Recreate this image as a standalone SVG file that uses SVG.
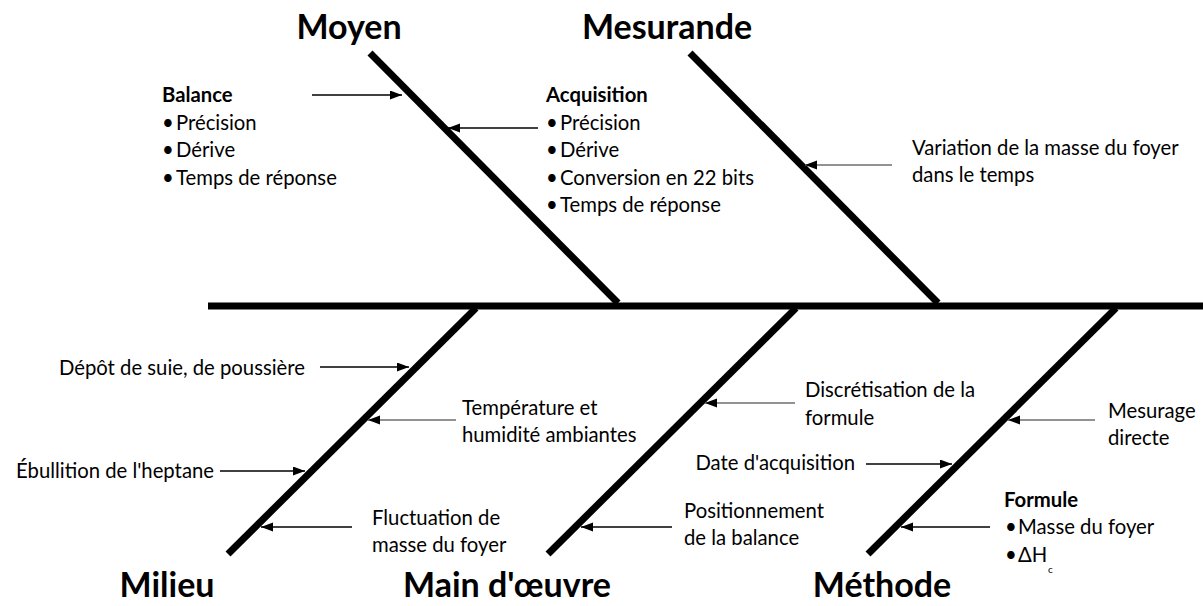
<svg xmlns="http://www.w3.org/2000/svg" width="1203" height="606" viewBox="0 0 1203 606">
<style>
  text { font-family: Lato, "Liberation Sans", sans-serif; fill: #000; }
  .t { font-size: 20.3px; }
  .b { font-weight: bold; }
  .title { font-size: 34px; font-weight: bold; text-anchor: middle; }
  .bone { stroke: #000; stroke-width: 7; fill: none; }
  .arr { stroke: #000; stroke-width: 1.3; fill: none; marker-end: url(#ah); }
  .arr.g { stroke: #6e6e6e; stroke-width: 1.6; }
  .sub { font-size: 10px; }
</style>
<defs>
  <marker id="ah" markerUnits="userSpaceOnUse" markerWidth="14" markerHeight="10" refX="12" refY="4.5" orient="auto">
    <path d="M0,0 L12,4.5 L0,9 z" fill="#000"/>
  </marker>
</defs>

<g id="skeleton">
  <line class="bone" x1="208" y1="306" x2="1203" y2="306"/>
  <line class="bone" x1="370" y1="53" x2="618" y2="303"/>
  <line class="bone" x1="690" y1="53" x2="938" y2="303"/>
  <line class="bone" x1="476" y1="308" x2="228" y2="554"/>
  <line class="bone" x1="796" y1="308" x2="548" y2="554"/>
  <line class="bone" x1="1116" y1="308" x2="868" y2="554"/>
</g>

<g id="connectors">
  <line class="arr" x1="312" y1="95" x2="402" y2="95"/>
  <line class="arr" x1="538" y1="128" x2="448" y2="128"/>
  <line class="arr g" x1="892" y1="165" x2="805" y2="165"/>
  <line class="arr" x1="320" y1="367" x2="409" y2="367"/>
  <line class="arr g" x1="456" y1="420" x2="368" y2="420"/>
  <line class="arr" x1="220" y1="471" x2="305" y2="471"/>
  <line class="arr" x1="352" y1="527" x2="261" y2="527"/>
  <line class="arr g" x1="795" y1="403" x2="705" y2="403"/>
  <line class="arr" x1="672" y1="527" x2="581" y2="527"/>
  <line class="arr" x1="866" y1="464" x2="952" y2="464"/>
  <line class="arr g" x1="1095" y1="420" x2="1008" y2="420"/>
  <line class="arr" x1="990" y1="527" x2="901" y2="527"/>
</g>

<g id="moyen"><text class="title" x="349" y="39">Moyen</text></g>
<g id="mesurande"><text class="title" x="667" y="39">Mesurande</text></g>
<g id="milieu"><text class="title" x="167" y="597">Milieu</text></g>
<g id="main-oeuvre"><text class="title" x="507" y="597">Main d'œuvre</text></g>
<g id="methode"><text class="title" x="882" y="597">Méthode</text></g>

<g id="balance">
  <text class="t b" x="162" y="102">Balance</text>
  <text class="t" x="162" y="130">•<tspan x="176">Précision</tspan></text>
  <text class="t" x="162" y="157">•<tspan x="176">Dérive</tspan></text>
  <text class="t" x="162" y="185">•<tspan x="176">Temps de réponse</tspan></text>
</g>

<g id="acquisition">
  <text class="t b" x="546" y="102">Acquisition</text>
  <text class="t" x="546" y="130">•<tspan x="560">Précision</tspan></text>
  <text class="t" x="546" y="157">•<tspan x="560">Dérive</tspan></text>
  <text class="t" x="546" y="185">•<tspan x="560">Conversion en 22 bits</tspan></text>
  <text class="t" x="546" y="212">•<tspan x="560">Temps de réponse</tspan></text>
</g>

<g id="variation">
  <text class="t" x="912" y="155">Variation de la masse du foyer</text>
  <text class="t" x="912" y="182">dans le temps</text>
</g>

<g id="depot"><text class="t" x="305" y="375" text-anchor="end">Dépôt de suie, de poussière</text></g>
<g id="temperature">
  <text class="t" x="462" y="415">Température et</text>
  <text class="t" x="462" y="442">humidité ambiantes</text>
</g>
<g id="ebullition"><text class="t" x="214" y="478" text-anchor="end">Ébullition de l'heptane</text></g>
<g id="fluctuation">
  <text class="t" x="372" y="525">Fluctuation de</text>
  <text class="t" x="372" y="552">masse du foyer</text>
</g>

<g id="discretisation">
  <text class="t" x="805" y="397">Discrétisation de la</text>
  <text class="t" x="805" y="425">formule</text>
</g>
<g id="date"><text class="t" x="855" y="470" text-anchor="end">Date d'acquisition</text></g>
<g id="positionnement">
  <text class="t" x="684" y="518">Positionnement</text>
  <text class="t" x="684" y="545">de la balance</text>
</g>

<g id="mesurage">
  <text class="t" x="1108" y="418">Mesurage</text>
  <text class="t" x="1108" y="445">directe</text>
</g>
<g id="formule">
  <text class="t b" x="1004" y="507">Formule</text>
  <text class="t" x="1005" y="534">•<tspan x="1018">Masse du foyer</tspan></text>
  <text class="t" x="1005" y="562">•<tspan x="1018">ΔH</tspan></text>
  <text class="sub" x="1048" y="573">c</text>
</g>
</svg>
